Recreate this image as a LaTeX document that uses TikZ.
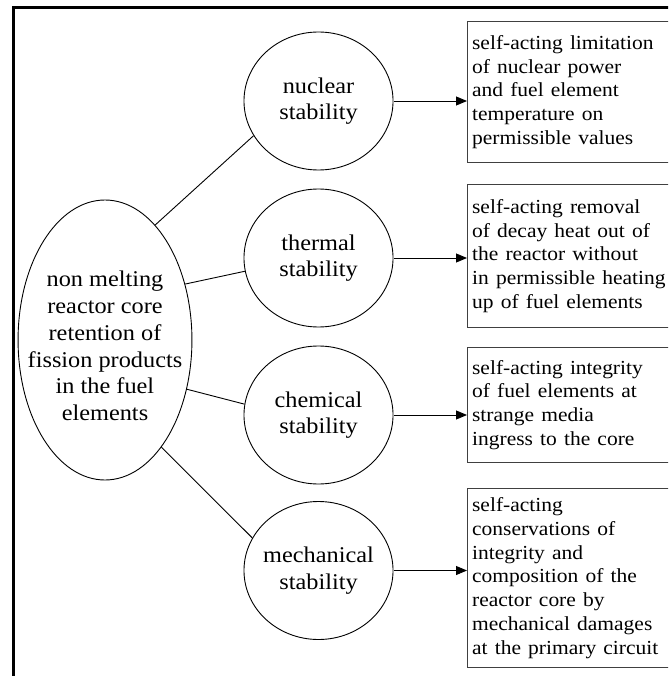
\documentclass[tikz,border=0pt]{standalone}
\usepackage{fontspec}
\setmainfont{Liberation Serif}
\usetikzlibrary{arrows.meta,shapes.geometric}
\begin{document}
\begin{tikzpicture}[x=1pt,y=-1pt,
  stretch/.style={xscale=1.08},
  bigfont/.style={font=\fontsize{22.5}{26.7}\selectfont},
  boxfont/.style={font=\fontsize{19.9}{23.8}\selectfont},
  stab/.style={stretch,circle,draw,line width=0.9pt,minimum size=138pt,inner sep=0pt,align=center,bigfont},
  coreshape/.style={stretch,ellipse,draw,line width=0.9pt,minimum width=161pt,minimum height=280pt,inner sep=0pt},
  effect/.style={stretch,rectangle,draw=black!75,line width=0.9pt,anchor=north west,text width=195pt,inner xsep=4.3pt,align=left,boxfont},
  link/.style={line width=0.9pt},
  arr/.style={line width=0.9pt,-{Triangle[length=11pt,width=9pt]}},
]
\useasboundingbox (0,0) rectangle (668,676);
\clip (0,0) rectangle (668,676);
\fill[white] (0,0) rectangle (668,676);
\coordinate (fa) at (13.7,690);
\coordinate (fb) at (13.7,8);
\coordinate (fc) at (690,8);
\draw[line width=3pt] (fa) -- (fb) -- (fc);

\node[coreshape] (core) at (105,340) {};
\node[stretch,bigfont,align=center] (coretext) at (105,346) {non melting\\reactor core\\retention of\\fission products\\in the fuel\\elements};

\node[stab] (nuc) at (318.5,101) {nuclear\\stability};
\node[stab] (therm) at (318.5,258) {thermal\\stability};
\node[stab] (chem) at (318.5,415) {chemical\\stability};
\node[stab] (mech) at (318.5,570.5) {mechanical\\stability};

\node[effect,minimum height=141pt] (b1) at (467,21) {self-acting limitation\\of nuclear power\\and fuel element\\temperature on\\permissible values};
\node[effect,minimum height=143pt] (b2) at (467,184) {self-acting removal\\of decay heat out of\\the reactor without\\in permissible heating\\up of fuel elements};
\node[effect,minimum height=115pt] (b3) at (467,347) {self-acting integrity\\of fuel elements at\\strange media\\ingress to the core};
\node[effect,minimum height=179pt] (b4) at (467,488) {self-acting\\conservations of\\integrity and\\composition of the\\reactor core by\\mechanical damages\\at the primary circuit};

\draw[link] (core.68) -- (nuc.210);
\draw[link] (core.37) -- (therm.191);
\draw[link] (core.327) -- (chem.171);
\draw[link] (core.296) -- (mech.152);

\draw[arr] (nuc.east) -- (nuc.east -| b1.west);
\draw[arr] (therm.east) -- (therm.east -| b2.west);
\draw[arr] (chem.east) -- (chem.east -| b3.west);
\draw[arr] (mech.east) -- (mech.east -| b4.west);
\end{tikzpicture}
\end{document}
